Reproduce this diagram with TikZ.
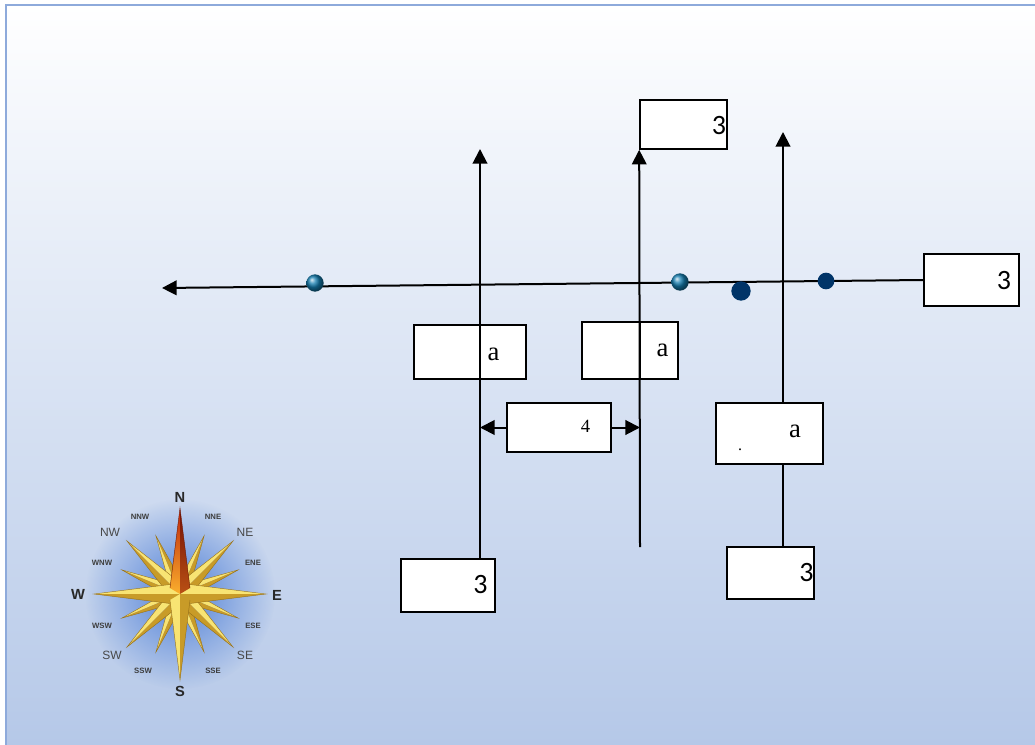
\documentclass[tikz,border=0pt]{standalone}
\usepackage{fontspec}
\setmainfont{Liberation Serif}
\newfontfamily\numfont{Carlito}
\newfontfamily\rosefont{Liberation Sans}
\usetikzlibrary{arrows.meta,fadings}
\definecolor{bgblue}{RGB}{181,200,232}
\definecolor{rim}{RGB}{142,170,219}
\definecolor{goldlight}{RGB}{248,228,115}
\definecolor{golddark}{RGB}{200,155,40}
\definecolor{goldedge}{RGB}{150,112,25}
\definecolor{redtip}{RGB}{190,35,10}
\definecolor{redbase}{RGB}{250,175,45}
\definecolor{darktip}{RGB}{115,15,5}
\definecolor{darkbase}{RGB}{185,80,20}
\definecolor{rededge}{RGB}{110,25,5}
\definecolor{navy}{RGB}{0,52,104}
\definecolor{globe}{RGB}{20,125,175}
\definecolor{glow}{RGB}{80,128,215}
\definecolor{rosetext}{RGB}{40,40,40}
\tikzfading[name=rose glow, inner color=transparent!0, outer color=transparent!100]
\tikzset{
  box/.style 2 args={draw, fill=white, line width=1.2pt, inner sep=0pt,
    minimum width=#1*0.75pt, minimum height=#2*0.75pt},
  num/.style={font=\numfont\fontsize{21}{21}\selectfont, inner sep=0pt},
  lett/.style={font=\fontsize{20}{20}\selectfont, inner sep=0pt},
  axis/.style={line width=1.5pt, -{Triangle[length=11pt,width=11pt]}},
  globedot/.style={circle, inner sep=0pt, minimum size=13pt, shading=ball, ball color=globe},
  navydot/.style={circle, inner sep=0pt, fill=navy, minimum size=#1},
  rosebig/.style={font=\rosefont\bfseries\fontsize{11}{11}\selectfont, text=rosetext, inner sep=0pt},
  rosemid/.style={font=\rosefont\fontsize{9}{9}\selectfont, text=rosetext!85, inner sep=0pt},
  rosesmall/.style={font=\rosefont\bfseries\fontsize{5.8}{5.8}\selectfont, text=rosetext!90, inner sep=0pt}
}
\begin{document}
\begin{tikzpicture}[x=0.75pt,y=-0.75pt]
  \useasboundingbox (0,0) rectangle (1035,745);
  \fill[white] (0,0) rectangle (1035,745);
  \shade[top color=white, bottom color=bgblue] (6,5) rectangle (1035,745);
  \draw[rim, line width=2.2pt] (6,745) -- (6,5) -- (1035,5);

  \node[box={112}{54}] (a1) at (470,352) {};
  \node[box={96}{57}] (a2) at (630,350.5) {};
  \node[box={95}{52}] (R) at (971.5,280) {};
  \node[box={87}{49}] (T) at (683.5,124.5) {};
  \node[box={94}{53}] (B1) at (448,585.5) {};
  \node[box={87}{52}] (B3) at (770.5,573) {};
  \node[box={104}{49}] (w4) at (559,427.5) {};
  \node[box={107}{61}] (a3) at (769.5,433.5) {};

  \coordinate (tW) at (162,288);
  \coordinate (t1) at (480,149);
  \coordinate (b2) at (640,547);
  \coordinate (t3) at (783,132);

  \draw[axis] (R.west) -- (tW);
  \draw[axis] (B1.north -| t1) -- (t1);
  \draw[axis] (b2) -- (T.south west);
  \draw[line width=1.5pt] (B3.north -| t3) -- (a3.south -| t3);
  \draw[axis] (a3.north -| t3) -- (t3);
  \draw[axis] (w4.west) -- (w4.west -| t1);
  \draw[axis] (w4.east) -- (w4.east -| b2);

  \node[globedot] (g1) at (315,283) {};
  \node[globedot] (g2) at (680,282) {};
  \node[navydot=14.5pt] (n1) at (741,291) {};
  \node[navydot=12.5pt] (n2) at (826,281) {};

  \node[num] (R3) at (1004,280.5) {3};
  \node[num] (T3) at (719,125.5) {3};
  \node[num] (B13) at (480.5,585) {3};
  \node[num] (B33) at (806.5,573) {3};
  \node[lett] (a1a) at (493.5,354.5) {a};
  \node[lett] (a2a) at (662.5,350.5) {a};
  \node[lett] (a3a) at (795,431.5) {a};
  \node[font=\fontsize{14}{14}\selectfont, inner sep=0pt] (w44) at (585.5,426) {4};
  \node[font=\fontsize{12}{12}\selectfont, inner sep=0pt] (a3p) at (740,450) {.};

  % compass rose
  \begin{scope}[shift={(180,594)}, y=0.75pt]
    \fill[glow, path fading=rose glow] (0,0) circle (95);
    \foreach \a/\l/\k/\w in {22.5/63/5/7, 67.5/63/5/7, 112.5/63/5/7, 157.5/63/5/7,
        202.5/63/5/7, 247.5/63/5/7, 292.5/63/5/7, 337.5/63/5/7,
        45/75/5/8.5, 135/75/5/8.5, 225/75/5/8.5, 315/75/5/8.5,
        0/86/6/10, 180/86/6/10, 270/86/6/10} {
      \pgfmathsetmacro\s{cos(\a-40)>=0 ? 1 : -1}
      \pgfmathsetmacro\p{\a+\s*90}
      \pgfmathsetmacro\q{\a-\s*90}
      \fill[goldlight] (0,0) -- ([shift={(\a:\k)}]\p:\w) -- (\a:\l) -- cycle;
      \fill[golddark] (0,0) -- ([shift={(\a:\k)}]\q:\w) -- (\a:\l) -- cycle;
      \draw[goldedge, line width=0.3pt] ([shift={(\a:\k)}]\p:\w) -- (\a:\l) -- ([shift={(\a:\k)}]\q:\w);
    }
    \shade[top color=redtip, bottom color=redbase] (0,0) -- ([shift={(90:6)}]180:10) -- (90:86) -- cycle;
    \shade[top color=darktip, bottom color=darkbase] (0,0) -- ([shift={(90:6)}]0:10) -- (90:86) -- cycle;
    \draw[rededge, line width=0.3pt] ([shift={(90:6)}]180:10) -- (90:86) -- ([shift={(90:6)}]0:10);
  \end{scope}

  \node[rosebig] (rN) at (180,497) {N};
  \node[rosebig] (rS) at (180,691) {S};
  \node[rosebig] (rW) at (78,594) {W};
  \node[rosebig] (rE) at (277,595) {E};
  \node[rosemid] (rNW) at (110,532) {NW};
  \node[rosemid] (rNE) at (245,532) {NE};
  \node[rosemid] (rSW) at (112,655) {SW};
  \node[rosemid] (rSE) at (245,655) {SE};
  \node[rosesmall] (rNNW) at (140,517) {NNW};
  \node[rosesmall] (rNNE) at (213,517) {NNE};
  \node[rosesmall] (rWNW) at (102,563) {WNW};
  \node[rosesmall] (rENE) at (253,563) {ENE};
  \node[rosesmall] (rWSW) at (102,626) {WSW};
  \node[rosesmall] (rESE) at (253,626) {ESE};
  \node[rosesmall] (rSSW) at (143,671) {SSW};
  \node[rosesmall] (rSSE) at (213,671) {SSE};

  % the two vertical lines run on through the boxes beside them
  \draw[black, line width=1.6pt] (a1.south -| t1) -- (a1.north -| t1);
  \draw[black, line width=1.6pt] (a2.south -| b2) -- (a2.north -| b2);
\end{tikzpicture}
\end{document}
